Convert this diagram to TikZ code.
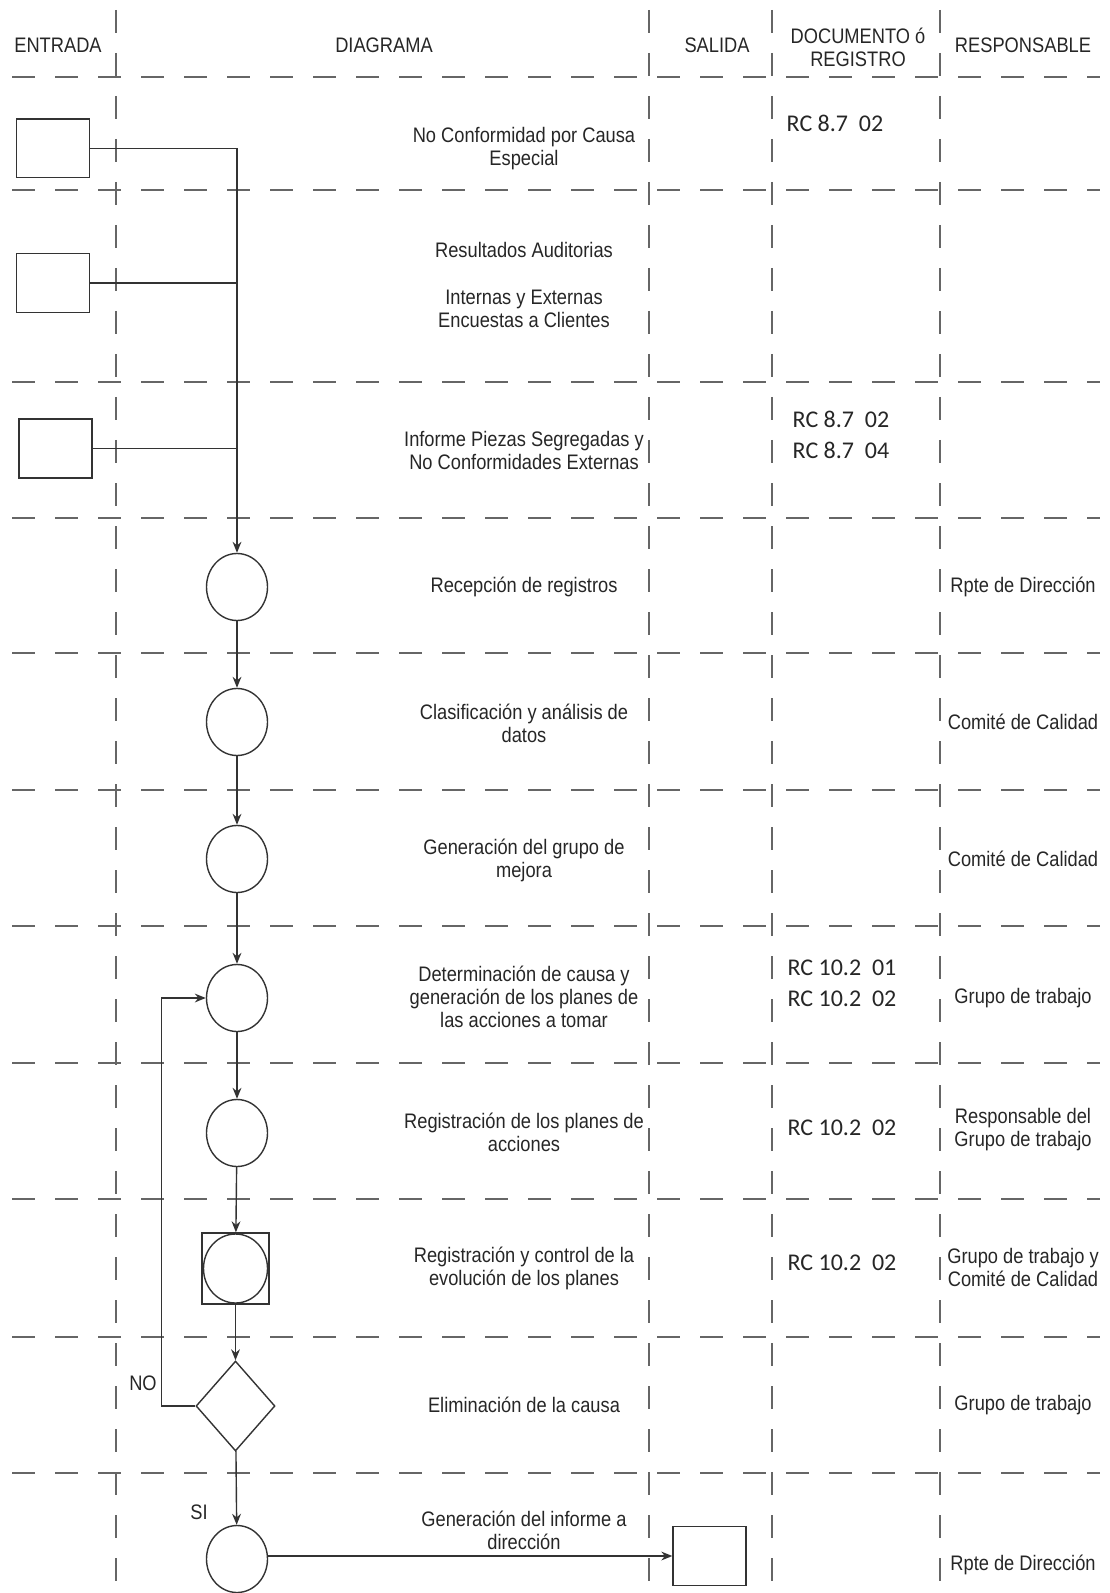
\documentclass[tikz,border=0pt]{standalone}
\usepackage{fontspec}
\newfontfamily\arialn{Liberation Sans}[FakeStretch=0.87]
\newfontfamily\calib{Carlito}
\usetikzlibrary{shapes.geometric, arrows.meta}

\begin{document}
\begin{tikzpicture}[x=0.5pt, y=-0.5pt, >={Stealth[length=5.5pt, width=4.4pt]},
    grid/.style={black!60, line width=0.8pt, dash pattern=on 11.5pt off 10pt},
    flow/.style={black!80, line width=0.7pt},
    txt/.style={font=\arialn\fontsize{10.5}{11.5}\selectfont, align=center, text=black!85, inner sep=0pt},
    rc/.style={font=\calib\fontsize{12}{15.5}\selectfont, align=left, text=black!85, inner sep=0pt},
    doc/.style={draw=black!80, line width=0.7pt, minimum width=36.5pt, minimum height=29.3pt, inner sep=0pt},
    proc/.style={ellipse, draw=black!80, line width=0.7pt, minimum width=30.5pt, minimum height=33.5pt, inner sep=0pt}]
    \useasboundingbox (0,0) rectangle (1109,1593);

    % Grid
    \foreach \gx in {116, 649, 772, 940}
        \draw[grid] (\gx, 10) -- (\gx, 1593);
    \foreach \gy in {77, 190, 382, 518, 653, 790, 926, 1063, 1199, 1337, 1473}
        \draw[grid] (12, \gy) -- (1100, \gy);

    % Headers
    \node[txt] (hin)   at (58, 45)   {ENTRADA};
    \node[txt] (hdiag) at (384, 45)  {DIAGRAMA};
    \node[txt] (hout)  at (717, 45)  {SALIDA};
    \node[txt] (hdoc)  at (858, 47)  {DOCUMENTO ó\\REGISTRO};
    \node[txt] (hresp) at (1023, 45) {RESPONSABLE};

    % Inputs and output
    \node[doc] (in1) at (53, 148.5) {};
    \node[doc] (in2) at (53, 283) {};
    \node[doc] (in3) at (55.5, 448.5) {};
    \node[doc] (salida) at (709.5, 1556) {};

    % Process shapes
    \node[proc] (rec)  at (237, 587) {};
    \node[proc] (clas) at (237, 722) {};
    \node[proc] (grp)  at (237, 859) {};
    \node[proc] (det)  at (237, 998) {};
    \node[proc] (regp) at (237, 1133) {};
    \node[draw=black!80, line width=0.7pt, minimum width=33.5pt, minimum height=35.5pt, inner sep=0pt] (regcbox) at (235.5, 1268.5) {};
    \node[proc, minimum width=32pt, minimum height=34.5pt] (regc) at (235.5, 1268.5) {};
    \node[diamond, draw=black!80, line width=0.7pt, minimum width=39.5pt, minimum height=45pt, inner sep=0pt] (elim) at (235.5, 1406) {};
    \node[proc] (inf)  at (237, 1559) {};

    % Connectors
    \coordinate (j1) at (237, 148.5);
    \coordinate (j2) at (237, 283);
    \coordinate (j3) at (237, 448.5);
    \draw[flow] (in1.east) -- (j1);
    \draw[flow] (in2.east) -- (j2);
    \draw[flow] (in3.east) -- (j3);
    \draw[flow, ->] (j1) -- (rec.north);
    \draw[flow, ->] (rec) -- (clas);
    \draw[flow, ->] (clas) -- (grp);
    \draw[flow, ->] (grp) -- (det);
    \draw[flow, ->] (det) -- (regp);
    \draw[flow, ->] (regp) -- (regcbox);
    \draw[flow, ->] (regcbox) -- (elim);
    \draw[flow, ->] (elim) -- (inf);
    \draw[flow, ->] (elim.west) -- ++(-34, 0) |- (det.west);
    \draw[flow, ->] (inf.east |- salida.west) -- (salida.west);
    \node[txt] (no) at (143, 1383) {NO};
    \node[txt] (si) at (199, 1512) {SI};

    % Diagram texts
    \node[txt] (t1)  at (524, 148.5) {No Conformidad por Causa\\Especial};
    \node[txt] (t2a) at (524, 250)   {Resultados Auditorias};
    \node[txt] (t2b) at (524, 309)   {Internas y Externas\\Encuestas a Clientes};
    \node[txt] (t3)  at (524, 450)   {Informe Piezas Segregadas y\\No Conformidades Externas};
    \node[txt] (t4)  at (524, 587)   {Recepción de registros};
    \node[txt] (t5)  at (524, 723)   {Clasificación y análisis de\\datos};
    \node[txt] (t6)  at (524, 860)   {Generación del grupo de\\mejora};
    \node[txt] (t7)  at (524, 997)   {Determinación de causa y\\generación de los planes de\\las acciones a tomar};
    \node[txt] (t8)  at (524, 1132)  {Registración de los planes de\\acciones};
    \node[txt] (t9)  at (524, 1268)  {Registración y control de la\\evolución de los planes};
    \node[txt] (t10) at (524, 1405)  {Eliminación de la causa};
    \node[txt] (t11) at (524, 1530)  {Generación del informe a\\dirección};

    % Documents
    \node[rc] (d1) at (835, 123)    {RC 8.7~~02};
    \node[rc] (d3) at (841, 434.5)  {RC 8.7~~02\\RC 8.7~~04};
    \node[rc] (d7) at (842, 983.5)  {RC 10.2~~01\\RC 10.2~~02};
    \node[rc] (d8) at (842, 1128)   {RC 10.2~~02};
    \node[rc] (d9) at (842, 1263)   {RC 10.2~~02};

    % Responsables
    \node[txt] (r4)  at (1023, 587)  {Rpte de Dirección};
    \node[txt] (r5)  at (1023, 722)  {Comité de Calidad};
    \node[txt] (r6)  at (1023, 859)  {Comité de Calidad};
    \node[txt] (r7)  at (1023, 998)  {Grupo de trabajo};
    \node[txt] (r8)  at (1023, 1130) {Responsable del\\Grupo de trabajo};
    \node[txt] (r9)  at (1023, 1267) {Grupo de trabajo y\\Comité de Calidad};
    \node[txt] (r10) at (1023, 1405) {Grupo de trabajo};
    \node[txt] (r11) at (1023, 1565) {Rpte de Dirección};
\end{tikzpicture}
\end{document}
